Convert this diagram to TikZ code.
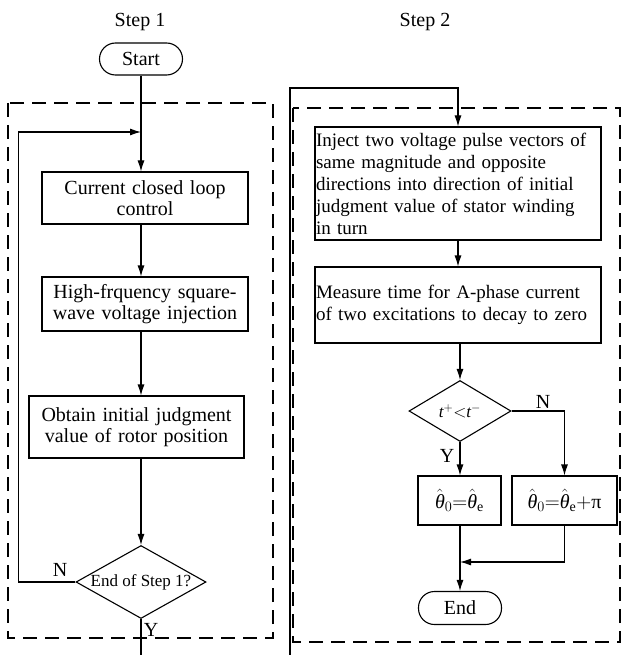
\documentclass[tikz,border=0pt]{standalone}
\usepackage{fontspec}
\setmainfont{Liberation Serif}
\usetikzlibrary{shapes.geometric,arrows.meta}
\newcommand{\thhat}{\hat{\hbox{\itshape θ}}}

\begin{document}
\begin{tikzpicture}[x=1pt,y=-1pt,line width=1.1pt,
    font=\fontsize{20}{21}\selectfont,
    procbox/.style={draw,rectangle,inner sep=2pt,align=center},
    termbox/.style={draw,rectangle,rounded corners=16pt,minimum width=83pt,minimum height=32pt},
    decide/.style={draw,diamond,inner sep=0pt,font=\fontsize{17}{18}\selectfont},
    arr/.style={-{Latex[length=11pt,width=7pt]}},
    frame/.style={dash pattern=on 14pt off 8pt}]
  \useasboundingbox (0,0) rectangle (622,655);
  % step 1
  \node (step1) at (140,22) {Step 1};
  \node[termbox] (start) at (141,59) {Start};
  \draw[frame] (8,103) rectangle (273,638);
  \coordinate (loopin) at (141,132);
  \node[procbox,minimum width=206pt,minimum height=52pt,text width=200pt] (ccl) at (145,198) {Current closed loop\\control};
  \node[procbox,minimum width=206pt,minimum height=54pt,text width=200pt] (hfi) at (145,304) {High-frquency square-\\wave voltage injection};
  \node[procbox,minimum width=215pt,minimum height=62pt,text width=209pt] (init) at (136.5,427) {Obtain initial judgment\\value of rotor position};
  \node[decide,aspect=1.78,minimum width=130pt,minimum height=73pt] (end1) at (141,582) {End of Step 1?};
  \coordinate (out1) at (141,655);
  \draw[arr] (start) -- (start |- ccl.north);
  \draw[arr] (ccl.south -| start) -- (hfi.north -| start);
  \draw[arr] (hfi.south -| start) -- (init.north -| start);
  \draw[arr] (init.south -| start) -- (end1.north);
  \draw[arr] (end1.west) -- ++(-57,0) |- (loopin);
  \draw (end1.south) -- (out1);
  \node (n1) at (60,570) {N};
  \node (y1) at (151,630) {Y};
  % step 2
  \node (step2) at (425,22) {Step 2};
  \draw[frame] (293,108) rectangle (620,642);
  \coordinate (out2) at (290,655);
  \coordinate (top2) at (458,88);
  \node[procbox,align=left,inner sep=1pt,minimum width=286pt,minimum height=113pt,text width=284pt,
    font=\fontsize{19}{22}\selectfont] (inject) at (458,183.5) {Inject two voltage pulse vectors of\\same magnitude and opposite\\directions into direction of initial\\judgment value of stator winding\\in turn};
  \node[procbox,align=left,inner sep=1pt,minimum width=286pt,minimum height=76pt,text width=284pt,
    font=\fontsize{19}{22}\selectfont] (measure) at (458,305) {Measure time for A-phase current\\of two excitations to decay to zero};
  \node[decide,aspect=1.67,minimum width=102pt,minimum height=61pt] (cmp) at (460,411) {$\hbox{\itshape t}^+{<}\hbox{\itshape t}^-$};
  \node[procbox,minimum width=83pt,minimum height=49pt] (same) at (459.5,500.5) {$\thhat_0{=}\thhat_{\mathrm e}$};
  \node[procbox,minimum width=105pt,minimum height=49pt] (flip) at (564.5,500.5) {$\thhat_0{=}\thhat_{\mathrm e}{+}\hbox{π}$};
  \node[termbox,minimum height=33pt] (fin) at (460,608) {End};
  \coordinate (join) at (460,562);
  \draw[arr] (out2) |- (top2) -- (inject.north);
  \draw[arr] (inject) -- (measure);
  \draw[arr] (measure.south -| cmp) -- (cmp.north);
  \draw[arr] (cmp.south) -- (same.north -| cmp);
  \draw[arr] (cmp.east) -| (flip.north);
  \draw[arr] (same.south -| cmp) -- (fin.north);
  \draw[arr] (flip.south) |- (join);
  \node (y2) at (447,456) {Y};
  \node (n2) at (543,402) {N};
\end{tikzpicture}
\end{document}
